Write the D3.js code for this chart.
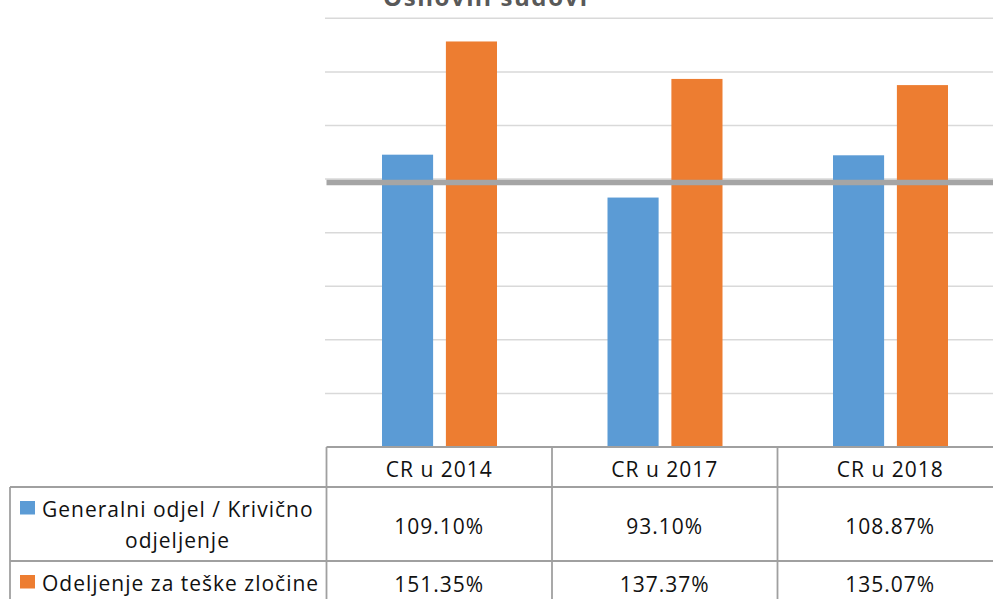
<!DOCTYPE html>
<html>
<head>
<meta charset="utf-8">
<script src="https://cdn.jsdelivr.net/npm/d3@7"></script>
<style>
  html, body { margin: 0; padding: 0; background: #fff; overflow: hidden; }
  svg { display: block; font-family: "Open Sans", sans-serif; }
</style>
</head>
<body>
<svg id="chart" width="993" height="599"></svg>
<script>
// Data
const categories = ['CR u 2014', 'CR u 2017', 'CR u 2018'];
const seriesNames = ['Generalni odjel / Krivično odjeljenje', 'Odeljenje za teške zločine'];
const seriesLines = [['Generalni odjel / Krivično', 'odjeljenje'], ['Odeljenje za teške zločine']];
const generalni = [109.10, 93.10, 108.87];
const teski = [151.35, 137.37, 135.07];
const targetLine = 98.7;
const yTicks = [20, 40, 60, 80, 100, 120, 140, 160];
const colors = ['#5b9bd5', '#ed7d31'];

const svg = d3.select('#chart');

// Layout
const plotLeft = 326.5, cellW = 225.5;
const plotRight = plotLeft + cellW * categories.length;
const baseY = 447, topY = 18.3;
const tableLeft = 10;
const headerH = 40, rowHeights = [74, 74];

const x0 = d3.scaleBand()
    .domain(categories)
    .range([plotLeft, plotRight]);

const x1 = d3.scaleBand()
    .domain([0, 1])
    .range([55.5, 170.5])
    .paddingInner(0.2);

const y = d3.scaleLinear()
    .domain([0, 160])
    .range([baseY, topY]);

// title (cut off at the top in the reference)
svg.append('text')
    .attr('x', 383)
    .attr('y', 6)
    .attr('font-size', 24)
    .attr('font-weight', 700)
    .attr('letter-spacing', 1.6)
    .attr('fill', '#595959')
    .text('Osnovni sudovi');

// gridlines
svg.append('g')
    .selectAll('line')
    .data(yTicks)
    .enter().append('line')
    .attr('x1', plotLeft - 1.5)
    .attr('x2', 993)
    .attr('y1', d => y(d))
    .attr('y2', d => y(d))
    .attr('stroke', '#d9d9d9')
    .attr('stroke-width', 1.5);

// bars
const seriesData = [generalni, teski];
const groups = svg.append('g')
    .selectAll('g')
    .data(categories)
    .enter().append('g')
    .attr('transform', d => `translate(${x0(d)},0)`);

groups.selectAll('rect')
    .data((d, i) => seriesData.map((s, k) => ({ k: k, v: s[i] })))
    .enter().append('rect')
    .attr('x', d => x1(d.k))
    .attr('width', x1.bandwidth())
    .attr('y', d => y(d.v))
    .attr('height', d => baseY - y(d.v))
    .attr('fill', d => colors[d.k]);

// target line across all categories
svg.append('line')
    .attr('x1', plotLeft)
    .attr('x2', 993)
    .attr('y1', y(targetLine))
    .attr('y2', y(targetLine))
    .attr('stroke', '#a5a5a5')
    .attr('stroke-width', 5.5);

// data table
const gridColor = '#a0a0a0';
const table = svg.append('g')
    .attr('stroke', gridColor)
    .attr('stroke-width', 1.8)
    .attr('fill', 'none');

const rowTop = [baseY + headerH, baseY + headerH + rowHeights[0]];
const tableBottom = rowTop[1] + rowHeights[1];

// horizontal lines
table.append('line')
    .attr('x1', plotLeft).attr('x2', 993)
    .attr('y1', baseY).attr('y2', baseY);
rowTop.forEach(ry => {
    table.append('line')
        .attr('x1', tableLeft).attr('x2', 993)
        .attr('y1', ry).attr('y2', ry);
});

// vertical lines
table.append('line')
    .attr('x1', tableLeft).attr('x2', tableLeft)
    .attr('y1', rowTop[0]).attr('y2', tableBottom);
categories.forEach(c => {
    table.append('line')
        .attr('x1', x0(c)).attr('x2', x0(c))
        .attr('y1', baseY).attr('y2', tableBottom);
});

const textColor = '#111';
const fs = 21;
const ls = 1;

// header labels
svg.append('g')
    .selectAll('text')
    .data(categories)
    .enter().append('text')
    .attr('x', d => x0(d) + cellW / 2)
    .attr('y', baseY + 29.5)
    .attr('text-anchor', 'middle')
    .attr('font-size', fs)
    .attr('letter-spacing', ls)
    .attr('fill', textColor)
    .text(d => d);

// values
const fmt = v => v.toFixed(2) + '%';
seriesData.forEach((s, k) => {
    svg.append('g')
        .selectAll('text')
        .data(s)
        .enter().append('text')
        .attr('x', (d, i) => x0(categories[i]) + cellW / 2)
        .attr('y', k === 0 ? rowTop[0] + 47 : rowTop[1] + 30.5)
        .attr('text-anchor', 'middle')
        .attr('font-size', fs)
        .attr('letter-spacing', ls)
        .attr('fill', textColor)
        .text(d => fmt(d));
});

// row labels with legend keys
seriesLines.forEach((lines, k) => {
    const g = svg.append('g');
    g.append('rect')
        .attr('x', 20)
        .attr('y', rowTop[k] + 14)
        .attr('width', 15)
        .attr('height', 13.5)
        .attr('fill', colors[k]);
    const textCenter = 177.5;
    lines.forEach((ln, j) => {
        g.append('text')
            .attr('x', j === 0 ? 42 : textCenter)
            .attr('y', rowTop[k] + 30 + j * 31)
            .attr('text-anchor', j === 0 ? 'start' : 'middle')
            .attr('font-size', fs)
            .attr('letter-spacing', ls)
            .attr('fill', textColor)
            .text(ln);
    });
});
</script>
</body>
</html>
